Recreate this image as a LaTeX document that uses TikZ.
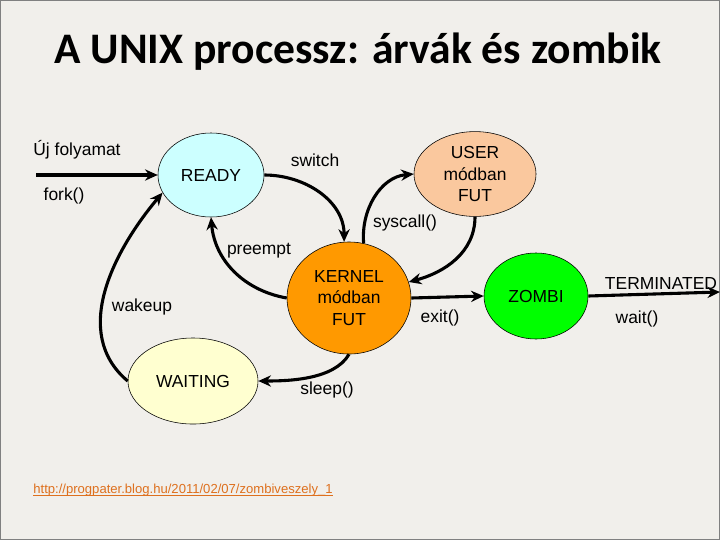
\documentclass[tikz,border=0pt]{standalone}
\usepackage{fontspec}
\setmainfont{Liberation Sans}
\newfontfamily\titlefont{Carlito}
\usetikzlibrary{shapes.geometric,arrows.meta}
\definecolor{readyfill}{RGB}{204,255,255}
\definecolor{userfill}{RGB}{250,200,158}
\definecolor{kernelfill}{RGB}{255,153,0}
\definecolor{waitfill}{RGB}{255,255,208}
\definecolor{zombifill}{RGB}{0,255,0}
\definecolor{bgfill}{RGB}{241,239,235}
\definecolor{linkcol}{RGB}{222,112,30}
\begin{document}
\begin{tikzpicture}[x=0.025cm,y=-0.025cm,
  state/.style={ellipse,draw,thin,inner sep=0pt,align=center,
    font=\fontsize{12.4}{15}\selectfont},
  lbl/.style={font=\fontsize{12.4}{15}\selectfont},
  trans/.style={line width=2.2pt,-{Stealth[length=9pt,width=8pt]}}]
  \useasboundingbox (0,0) rectangle (720,540);
  \fill[bgfill] (0,0) rectangle (720,540);
  \draw[gray,line width=1pt] (0.5,0.5) rectangle (719.5,539.5);
  \node[anchor=base,font=\titlefont\bfseries\fontsize{31}{36}\selectfont] (title) at (358,63) {A UNIX processz: árvák és zombik};
  % states
  \node[state,fill=readyfill,minimum width=2.65cm,minimum height=2.1cm] (ready) at (211,175) {READY};
  \node[state,fill=userfill,minimum width=3.05cm,minimum height=2.12cm] (user) at (475,174) {USER\\módban\\FUT};
  \node[state,fill=kernelfill,minimum width=3.1cm,minimum height=2.8cm] (kernel) at (349,298) {KERNEL\\módban\\FUT};
  \node[state,fill=waitfill,minimum width=3.25cm,minimum height=2.15cm] (wait) at (193,381) {WAITING};
  \node[state,fill=zombifill,minimum width=2.6cm,minimum height=2.15cm] (zombi) at (536,296) {ZOMBI};
  \coordinate (new) at (36,175);
  \coordinate (term) at (720,292);
  % transitions
  \draw[trans] (new) -- (ready.west);
  \draw[trans] (wait.west) to[out=140,in=230] (ready.200);
  \draw[trans] (ready.east) to[out=0,in=90] (kernel.95);
  \draw[trans] (kernel.west) to[out=170,in=-85] (ready.south);
  \draw[trans] (kernel.75) to[out=95,in=185] (user.west);
  \draw[trans] (user.south) to[out=-90,in=15] (kernel.15);
  \draw[trans] (kernel.east) -- (zombi.west);
  \draw[trans] (kernel.south) to[out=240,in=0,looseness=0.8] (wait.east);
  \draw[trans] (zombi.east) -- (term);
  % labels
  \node[lbl] (newlbl) at (77,150) {Új folyamat};
  \node[lbl] (forklbl) at (64,196) {fork()};
  \node[lbl] (switchlbl) at (315,160) {switch};
  \node[lbl] (preemptlbl) at (259,251) {preempt};
  \node[lbl] (syscalllbl) at (405,223) {syscall()};
  \node[lbl] (wakeuplbl) at (142,307) {wakeup};
  \node[lbl] (exitlbl) at (440,318) {exit()};
  \node[lbl] (sleeplbl) at (327,390) {sleep()};
  \node[lbl] (termlbl) at (661,283) {TERMINATED};
  \node[lbl] (waitlbl) at (637,319) {wait()};
  \node[text=linkcol,font=\fontsize{9.3}{11}\selectfont,anchor=base,inner sep=0pt] (link) at (183,493) {http://progpater.blog.hu/2011/02/07/zombiveszely\_1};
  \draw[linkcol,line width=0.8pt] ([yshift=-1.6pt]link.base west) -- ([yshift=-1.6pt]link.base east);
\end{tikzpicture}
\end{document}
